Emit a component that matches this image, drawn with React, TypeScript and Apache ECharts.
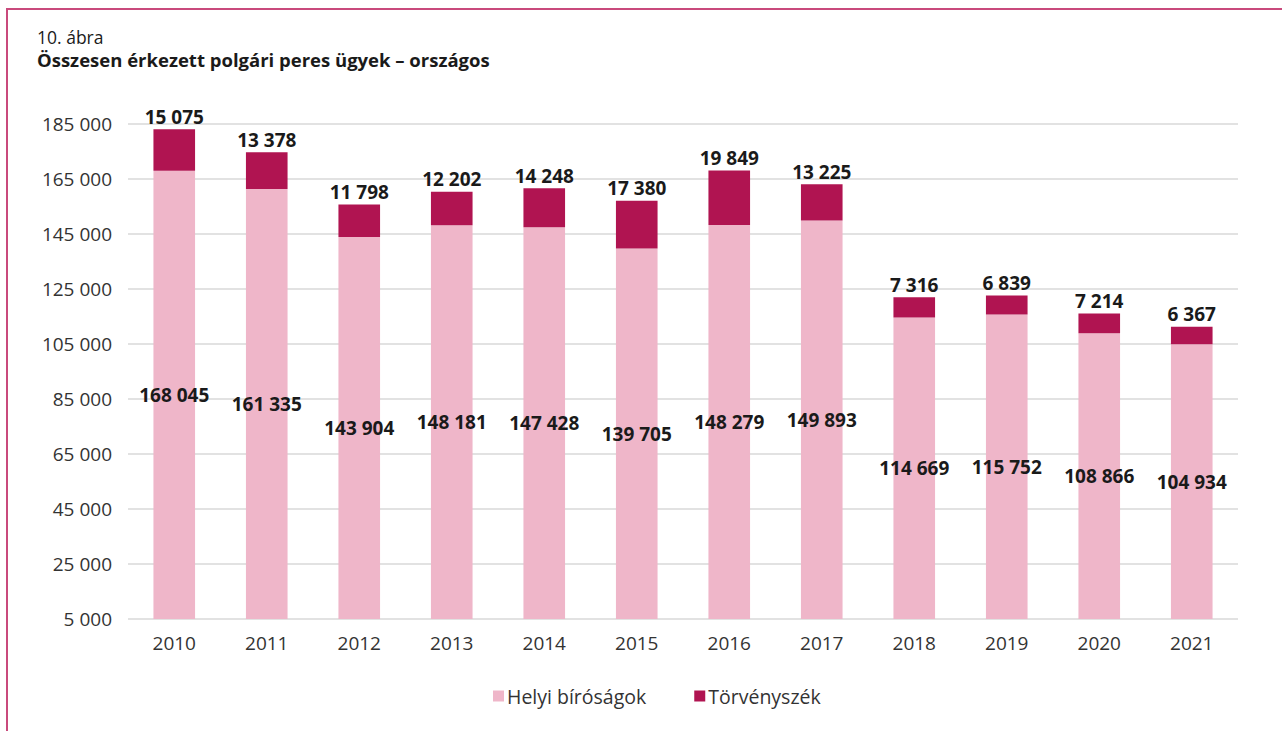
import React, { useEffect, useRef } from "react";
import * as echarts from "echarts";

const years = ["2010", "2011", "2012", "2013", "2014", "2015", "2016", "2017", "2018", "2019", "2020", "2021"];
const helyi = [168045, 161335, 143904, 148181, 147428, 139705, 148279, 149893, 114669, 115752, 108866, 104934];
const torveny = [15075, 13378, 11798, 12202, 14248, 17380, 19849, 13225, 7316, 6839, 7214, 6367];
const seriesNames = ["Helyi bíróságok", "Törvényszék"];
const titleSmall = "10. ábra";
const titleMain = "Összesen érkezett polgári peres ügyek – országos";

const fmt = (v: number) => {
  const s = Math.round(v).toString();
  return s.replace(/\B(?=(\d{3})+(?!\d))/g, " ");
};

const FONT = "'Open Sans', 'Noto Sans', sans-serif";

export default function App() {
  const ref = useRef<HTMLDivElement>(null);
  useEffect(() => {
    if (!ref.current) return;
    const chart = echarts.init(ref.current, undefined, { renderer: "svg" });
    chart.setOption({
      animation: false,
      backgroundColor: "#ffffff",
      textStyle: { fontFamily: FONT },
      graphic: [
        { type: "line", shape: { x1: 7, y1: 9, x2: 7, y2: 731 }, style: { stroke: "#c94a7c", lineWidth: 2 } },
        { type: "line", shape: { x1: 6, y1: 9, x2: 1282, y2: 9 }, style: { stroke: "#c94a7c", lineWidth: 2 } },
        {
          type: "text",
          x: 37,
          y: 37,
          style: { text: titleSmall, font: `17.5px ${FONT}`, fill: "#1a1a1a", verticalAlign: "middle", lineHeight: 17 },
        },
        {
          type: "text",
          x: 37,
          y: 59,
          style: { text: titleMain, font: `bold 18.5px ${FONT}`, fill: "#1a1a1a", verticalAlign: "middle", lineHeight: 18 },
        },
      ],
      grid: { left: 128, right: 44, top: 124, bottom: 112, containLabel: false },
      legend: {
        bottom: 20,
        left: 488,
        itemWidth: 11,
        itemHeight: 11,
        itemGap: 48,
        icon: "rect",
        textStyle: { fontSize: 19.5, color: "#333333", fontFamily: FONT, padding: [0, 0, 0, -2] },
        data: seriesNames,
      },
      xAxis: {
        type: "category",
        data: years,
        axisLine: { show: false },
        axisTick: { show: false },
        axisLabel: { fontSize: 19, color: "#333333", margin: 14, fontFamily: FONT },
      },
      yAxis: {
        type: "value",
        min: 5000,
        max: 185000,
        interval: 20000,
        axisLine: { show: false },
        axisTick: { show: false },
        splitLine: { lineStyle: { color: "#d9d9d9", width: 1.5 } },
        axisLabel: { fontSize: 19, color: "#333333", margin: 16, fontFamily: FONT, formatter: (v: number) => fmt(v) },
      },
      series: [
        {
          name: seriesNames[0],
          type: "bar",
          stack: "total",
          barWidth: "45%",
          data: helyi,
          itemStyle: { color: "#efb6c9" },
          label: {
            show: true,
            position: "inside",
            fontSize: 19,
            fontWeight: "bold",
            color: "#1a1a1a",
            fontFamily: FONT,
            formatter: (p: any) => fmt(p.value),
          },
        },
        {
          name: seriesNames[1],
          type: "bar",
          stack: "total",
          barWidth: "45%",
          data: torveny,
          itemStyle: { color: "#b01451" },
          label: {
            show: true,
            position: "top",
            distance: 3,
            fontSize: 19,
            fontWeight: "bold",
            color: "#1a1a1a",
            fontFamily: FONT,
            formatter: (p: any) => fmt(p.value),
          },
        },
      ],
    });
    return () => chart.dispose();
  }, []);
  return <div ref={ref} style={{ position: "fixed", left: 0, top: 0, width: 1282, height: 731 }} />;
}
